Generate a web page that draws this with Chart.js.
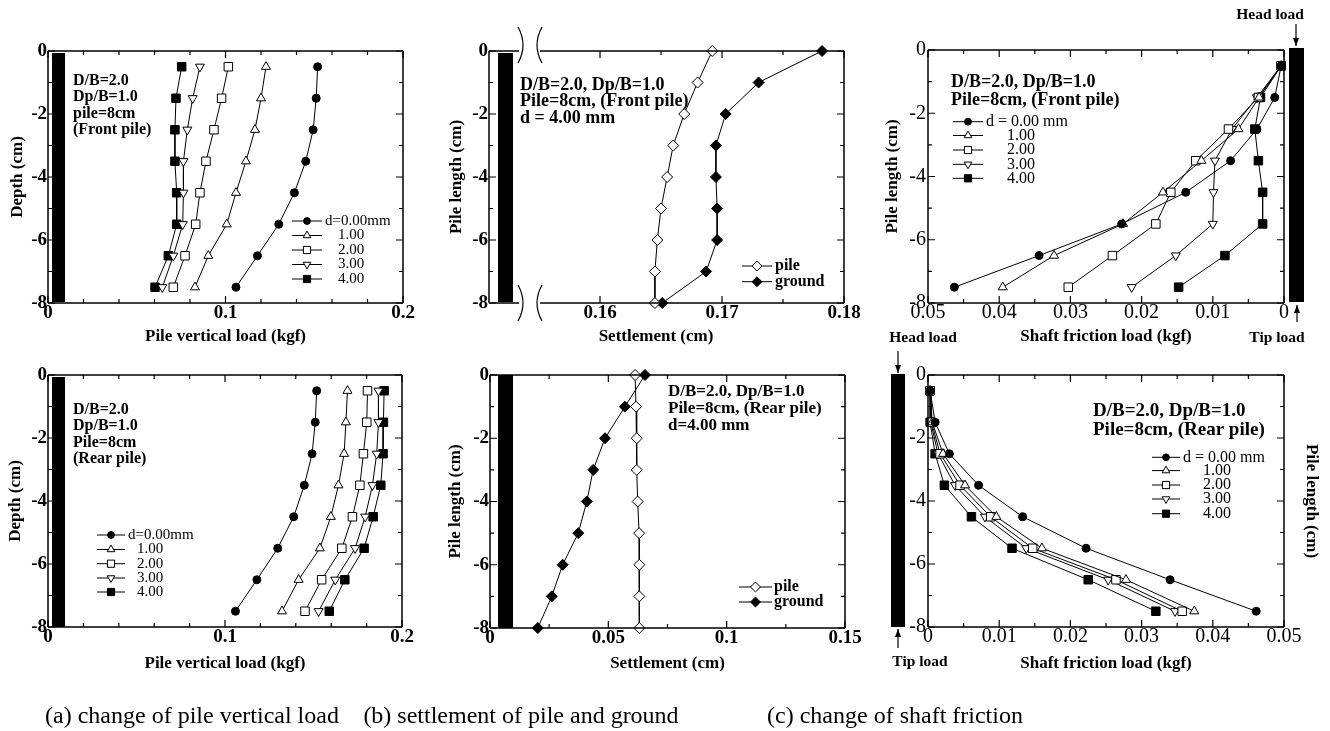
<!DOCTYPE html>
<html><head><meta charset="utf-8">
<script src="https://cdn.jsdelivr.net/npm/chart.js@4.4.1/dist/chart.umd.min.js"></script>
<style>
html,body{margin:0;padding:0;background:#fff;}
#wrap{position:relative;width:1330px;height:731px;overflow:hidden;background:#fff;}
canvas{position:absolute;left:0;top:0;}
.cap{position:absolute;font-family:'Liberation Serif','Times New Roman',serif;font-size:24px;line-height:28px;color:#000;white-space:nowrap;transform:translateX(-50%);}
</style></head><body>
<div id="wrap">
<canvas id="a1" width="1330" height="731"></canvas>
<canvas id="a2" width="1330" height="731"></canvas>
<canvas id="b1" width="1330" height="731"></canvas>
<canvas id="b2" width="1330" height="731"></canvas>
<canvas id="c1" width="1330" height="731"></canvas>
<canvas id="c2" width="1330" height="731"></canvas>
<div class="cap" style="left:192px;top:701px">(a) change of pile vertical load</div>
<div class="cap" style="left:521px;top:701px">(b) settlement of pile and ground</div>
<div class="cap" style="left:895px;top:701px">(c) change of shaft friction</div>
</div>
<script>
// ---------------- DATA ----------------
const depthHalf = [-0.5,-1.5,-2.5,-3.5,-4.5,-5.5,-6.5,-7.5];
const depthFull = [0,-1,-2,-3,-4,-5,-6,-7,-8];
const seriesNamesA = ['d=0.00mm','1.00','2.00','3.00','4.00'];
const seriesNamesC = ['d = 0.00 mm','1.00','2.00','3.00','4.00'];
const seriesNamesB = ['pile','ground'];

// (a) pile vertical load (kgf), front pile
const loadFront_d0 = [0.1519,0.1511,0.1494,0.1452,0.1388,0.1300,0.1180,0.1059];
const loadFront_d1 = [0.1228,0.1200,0.1166,0.1115,0.1059,0.1007,0.0903,0.0828];
const loadFront_d2 = [0.1016,0.0978,0.0935,0.0890,0.0856,0.0832,0.0772,0.0706];
const loadFront_d3 = [0.0856,0.0815,0.0785,0.0763,0.0763,0.0759,0.0706,0.0644];
const loadFront_d4 = [0.0753,0.0721,0.0715,0.0715,0.0725,0.0725,0.0678,0.0603];
// (a) rear pile
const loadRear_d0 = [0.1518,0.1510,0.1492,0.1448,0.1388,0.1298,0.1180,0.1059];
const loadRear_d1 = [0.1692,0.1683,0.1673,0.1641,0.1598,0.1536,0.1416,0.1322];
const loadRear_d2 = [0.1805,0.1801,0.1782,0.1762,0.1720,0.1660,0.1546,0.1452];
const loadRear_d3 = [0.1867,0.1867,0.1857,0.1833,0.1792,0.1735,0.1623,0.1529];
const loadRear_d4 = [0.1899,0.1895,0.1893,0.1880,0.1837,0.1786,0.1677,0.1589];

// (b) settlement (cm)
const settleFront_pile   = [0.1692,0.1680,0.1669,0.1660,0.1655,0.1650,0.1647,0.1645,0.1645];
const settleFront_ground = [0.1782,0.1730,0.1703,0.1695,0.1695,0.1696,0.1696,0.1687,0.1651];
const settleRear_pile    = [0.0613,0.0617,0.0620,0.0620,0.0624,0.0630,0.0631,0.0631,0.0631];
const settleRear_ground  = [0.0655,0.0570,0.0486,0.0436,0.0409,0.0373,0.0307,0.0261,0.0202];

// (c) shaft friction load (kgf)
const fricFront_d0 = [0.0004,0.0013,0.0038,0.0075,0.0138,0.0228,0.0344,0.0463];
const fricFront_d1 = [0.0004,0.0035,0.0064,0.0116,0.0170,0.0226,0.0323,0.0395];
const fricFront_d2 = [0.0004,0.0036,0.0078,0.0124,0.0159,0.0180,0.0241,0.0303];
const fricFront_d3 = [0.0004,0.0038,0.0073,0.0097,0.0099,0.0100,0.0152,0.0214];
const fricFront_d4 = [0.0004,0.0033,0.0041,0.0036,0.0030,0.0030,0.0083,0.0148];
const fricRear_d0 = [0.0003,0.0010,0.0030,0.0071,0.0133,0.0222,0.0340,0.0461];
const fricRear_d1 = [0.0003,0.0006,0.0021,0.0052,0.0096,0.0160,0.0278,0.0374];
const fricRear_d2 = [0.0003,0.0005,0.0017,0.0045,0.0088,0.0147,0.0264,0.0357];
const fricRear_d3 = [0.0003,0.0004,0.0014,0.0038,0.0080,0.0138,0.0253,0.0347];
const fricRear_d4 = [0.0003,0.0003,0.0010,0.0023,0.0061,0.0118,0.0225,0.0320];

// ticks
const depthTicks = [0,-1,-2,-3,-4,-5,-6,-7,-8];
const depthLabelVals = [0,-2,-4,-6,-8];
const depthLabels = ['0','-2','-4','-6','-8'];
const loadTicks = [0,0.02,0.04,0.06,0.08,0.1,0.12,0.14,0.16,0.18,0.2];
const loadLabelVals = [0,0.1,0.2];
const loadLabels = ['0','0.1','0.2'];
const settleFrontTicks = [0.16,0.165,0.17,0.175,0.18];
const settleFrontLabelVals = [0.16,0.17,0.18];
const settleFrontLabels = ['0.16','0.17','0.18'];
const settleRearTicks = [0,0.025,0.05,0.075,0.1,0.125,0.15];
const settleRearLabelVals = [0,0.05,0.1,0.15];
const settleRearLabels = ['0','0.05','0.1','0.15'];
const fricTicks = [0,0.005,0.01,0.015,0.02,0.025,0.03,0.035,0.04,0.045,0.05];
const fricLabelVals = [0,0.01,0.02,0.03,0.04,0.05];
const fricLabels = ['0','0.01','0.02','0.03','0.04','0.05'];

// ---------------- STYLE / HELPERS ----------------
const FONT = "'Liberation Serif','Times New Roman',Times,serif";
const W = 1330, H = 731;
const markers = [
  {pointStyle:'circle',   radius:4,   fill:'#000', rot:0},
  {pointStyle:'triangle', radius:5.2, fill:'#fff', rot:0},
  {pointStyle:'rect',     radius:6,   fill:'#fff', rot:0},
  {pointStyle:'triangle', radius:5.2, fill:'#fff', rot:180},
  {pointStyle:'rect',     radius:6,   fill:'#000', rot:0}
];
const diamondOpen = {pointStyle:'rectRot', radius:5.5, fill:'#fff', rot:0};
const diamondFill = {pointStyle:'rectRot', radius:5.5, fill:'#000', rot:0};

function lbl(v, vals, labels){
  for (let i=0;i<vals.length;i++) if (Math.abs(v-vals[i])<1e-9) return labels[i];
  return '';
}
function series(label, xs, ys, st){
  return {
    label, data: ys.map((y,i)=>({x:xs[i], y})),
    borderColor:'#000', borderWidth:1, backgroundColor:st.fill,
    pointBackgroundColor:st.fill, pointBorderColor:'#000', pointBorderWidth:1,
    pointStyle:st.pointStyle, pointRadius:st.radius, pointRotation:st.rot,
    pointHoverRadius:st.radius, tension:0, fill:false, clip:false
  };
}
function drawMarker(ctx, st, x, y, r){
  ctx.save(); ctx.beginPath();
  const rad = (st.rot||0)*Math.PI/180;
  if (st.pointStyle==='circle') ctx.arc(x,y,r,0,Math.PI*2);
  else if (st.pointStyle==='triangle'){
    let a = rad;
    for (let k=0;k<3;k++){ const px=x+Math.sin(a)*r, py=y-Math.cos(a)*r; if(k) ctx.lineTo(px,py); else ctx.moveTo(px,py); a+=2*Math.PI/3; }
    ctx.closePath();
  } else if (st.pointStyle==='rect'){ const s=Math.SQRT1_2*r; ctx.rect(x-s,y-s,2*s,2*s); }
  else if (st.pointStyle==='rectRot'){ ctx.moveTo(x-r,y); ctx.lineTo(x,y-r); ctx.lineTo(x+r,y); ctx.lineTo(x,y+r); ctx.closePath(); }
  ctx.fillStyle=st.fill; ctx.fill(); ctx.lineWidth=1; ctx.strokeStyle='#000'; ctx.stroke();
  ctx.restore();
}

const decor = {
  id:'decor',
  afterDraw(chart, args, o){
    const ctx = chart.ctx, ca = chart.chartArea;
    const l=ca.left, r=ca.right, t=ca.top, b=ca.bottom;
    ctx.save();
    // pile schematic bar
    if (o.bar){
      const B=o.bar, ref = B.ref==='right' ? r : l;
      ctx.fillStyle='#000';
      ctx.fillRect(ref+B.dx1, t+B.dy1, B.dx2-B.dx1, (b+B.dy2)-(t+B.dy1));
    }
    // frame
    ctx.strokeStyle='#000'; ctx.lineWidth=1.5; ctx.beginPath();
    ctx.moveTo(l,t); ctx.lineTo(l,b); ctx.moveTo(r,t); ctx.lineTo(r,b);
    if (o.gap){
      const g1=l+o.gap.dx1, g2=l+o.gap.dx2;
      [t,b].forEach(yy=>{ ctx.moveTo(l,yy); ctx.lineTo(g1,yy); ctx.moveTo(g2,yy); ctx.lineTo(r,yy); });
    } else {
      ctx.moveTo(l,t); ctx.lineTo(r,t); ctx.moveTo(l,b); ctx.lineTo(r,b);
    }
    ctx.stroke();
    // inward ticks on four sides
    ctx.lineWidth=1.2; ctx.beginPath();
    const xs=chart.scales.x, ys=chart.scales.y;
    xs.ticks.forEach(tk=>{ const p=xs.getPixelForValue(tk.value); const L=tk.label?7:4;
      ctx.moveTo(p,b); ctx.lineTo(p,b-L); ctx.moveTo(p,t); ctx.lineTo(p,t+L); });
    ys.ticks.forEach(tk=>{ const p=ys.getPixelForValue(tk.value); const L=tk.label?7:4;
      ctx.moveTo(l,p); ctx.lineTo(l+L,p); ctx.moveTo(r,p); ctx.lineTo(r-L,p); });
    ctx.stroke();
    // axis break marks
    if (o.gap){
      const g1=l+o.gap.dx1, g2=l+o.gap.dx2;
      ctx.lineWidth=1.2; ctx.beginPath();
      [[t,-24,12],[b,-18,18]].forEach(([yy,a,c])=>{
        ctx.moveTo(g1-1,yy+a); ctx.quadraticCurveTo(g1+9,yy+(a+c)/2,g1-1,yy+c);
        ctx.moveTo(g2+2,yy+a); ctx.quadraticCurveTo(g2-8,yy+(a+c)/2,g2+2,yy+c);
      });
      ctx.stroke();
    }
    // arrows
    (o.arrows||[]).forEach(A=>{
      ctx.lineWidth=1.2; ctx.beginPath(); ctx.moveTo(A.x,A.y1); ctx.lineTo(A.x,A.y2); ctx.stroke();
      const dir = A.y2>A.y1 ? 1 : -1;
      ctx.beginPath(); ctx.moveTo(A.x,A.y2); ctx.lineTo(A.x-3,A.y2-dir*8); ctx.lineTo(A.x+3,A.y2-dir*8); ctx.closePath();
      ctx.fillStyle='#000'; ctx.fill();
    });
    // notes
    ctx.fillStyle='#000'; ctx.textBaseline='middle';
    (o.notes||[]).forEach(N=>{
      ctx.font=N.font; ctx.textAlign=N.align||'left';
      N.lines.forEach((s,i)=>ctx.fillText(s, N.x, N.y + i*N.dy));
    });
    // legend
    if (o.legend){
      const L=o.legend;
      chart.data.datasets.forEach((ds,i)=>{
        const y=L.rows[i];
        ctx.strokeStyle='#000'; ctx.lineWidth=1; ctx.beginPath(); ctx.moveTo(L.lx1,y); ctx.lineTo(L.lx2,y); ctx.stroke();
        drawMarker(ctx,{pointStyle:ds.pointStyle,fill:ds.pointBackgroundColor,rot:ds.pointRotation},(L.lx1+L.lx2)/2,y,ds.pointRadius*L.mscale);
        ctx.fillStyle='#000'; ctx.font=L.font; ctx.textAlign='left'; ctx.textBaseline='middle';
        ctx.fillText(ds.label, L.tx[i], y);
      });
    }
    ctx.restore();
  }
};

function panel(id, P){
  const scales = {
    x: {
      type:'linear', min:P.xmin, max:P.xmax, reverse:!!P.xrev, position:'bottom',
      grid:{display:false, drawTicks:false}, border:{display:false},
      afterBuildTicks: s=>{ s.ticks = P.xTicks.map(v=>({value:v})); },
      afterFit: s=>{ s.height = P.xH; },
      ticks:{autoSkip:false, maxRotation:0, minRotation:0, padding:P.xPad, color:'#000', font:P.tickFont,
        callback: v=>lbl(v,P.xLabVals,P.xLabs)},
      title:{display:!!P.xTitle, text:P.xTitle||'', color:'#000', font:P.titleFont, padding:{top:0,bottom:P.xTitlePad||0}}
    },
    y: {
      type:'linear', min:-8, max:0, position:'left',
      grid:{display:false, drawTicks:false}, border:{display:false},
      afterBuildTicks: s=>{ s.ticks = depthTicks.map(v=>({value:v})); },
      afterFit: s=>{ s.width = P.yW; },
      ticks:{autoSkip:false, padding:P.yPad, color:'#000', font:P.tickFont,
        callback: v=>lbl(v,depthLabelVals,depthLabels)},
      title:{display:!!P.yTitle, text:P.yTitle||'', color:'#000', font:P.titleFont, padding:{top:P.yTitlePad||0,bottom:0}}
    }
  };
  if (P.rTitle){
    scales.y2 = {
      type:'linear', position:'right', min:-8, max:0,
      grid:{display:false, drawTicks:false}, border:{display:false}, ticks:{display:false},
      afterFit: s=>{ s.width = P.rW; },
      title:{display:true, text:P.rTitle, color:'#000', font:P.titleFont, padding:{top:P.rTitlePad,bottom:0}}
    };
  }
  const box=P.box;
  return new Chart(document.getElementById(id), {
    type:'line',
    data:{datasets:P.datasets},
    options:{
      responsive:false, animation:false, devicePixelRatio:1, events:[],
      layout:{padding:{left:box.l-P.yW, top:box.t, right:W-box.r-(P.rW||0), bottom:H-box.b-P.xH}},
      scales,
      plugins:{legend:{display:false}, tooltip:{enabled:false}, title:{display:false}, decor:P.decor}
    },
    plugins:[decor]
  });
}

const tickFontAB = {family:FONT, size:19, weight:'bold', lineHeight:1};
const tickFontC  = {family:FONT, size:20, weight:'normal', lineHeight:1};
const titleFont  = {family:FONT, size:17, weight:'bold', lineHeight:1.2};
const noteA = `bold 16px ${FONT}`;
const legA = `15px ${FONT}`;
const legB = `bold 16px ${FONT}`;
const legC = `16px ${FONT}`;

// (a) front
panel('a1', {
  box:{l:48,t:51,r:403,b:303}, xmin:0, xmax:0.2, xTicks:loadTicks, xLabVals:loadLabelVals, xLabs:loadLabels,
  xTitle:'Pile vertical load (kgf)', yTitle:'Depth (cm)', yW:48, yTitlePad:7.8, xH:50, xTitlePad:5.8, xPad:0.5, yPad:1,
  tickFont:tickFontAB, titleFont,
  datasets:[loadFront_d0,loadFront_d1,loadFront_d2,loadFront_d3,loadFront_d4].map((v,i)=>series(seriesNamesA[i],v,depthHalf,markers[i])),
  decor:{
    bar:{dx1:4,dx2:17,dy1:2,dy2:-1},
    notes:[{x:73,y:81,dy:16.2,font:noteA,lines:['D/B=2.0','Dp/B=1.0','pile=8cm','(Front pile)']}],
    legend:{rows:[221,235.5,250,264.5,279],lx1:292,lx2:322,tx:[325,338,338,338,338],font:legA,mscale:0.85}
  }
});
// (a) rear
panel('a2', {
  box:{l:48,t:375,r:402,b:627}, xmin:0, xmax:0.2, xTicks:loadTicks, xLabVals:loadLabelVals, xLabs:loadLabels,
  xTitle:'Pile vertical load (kgf)', yTitle:'Depth (cm)', yW:48, yTitlePad:5.8, xH:50, xTitlePad:2.8, xPad:0.5, yPad:1,
  tickFont:tickFontAB, titleFont,
  datasets:[loadRear_d0,loadRear_d1,loadRear_d2,loadRear_d3,loadRear_d4].map((v,i)=>series(seriesNamesA[i],v,depthHalf,markers[i])),
  decor:{
    bar:{dx1:4,dx2:17,dy1:2,dy2:0},
    notes:[{x:73,y:410,dy:16.3,font:noteA,lines:['D/B=2.0','Dp/B=1.0','Pile=8cm','(Rear pile)']}],
    legend:{rows:[535,549.5,563.7,578,592],lx1:97,lx2:125,tx:[128,137,137,137,137],font:legA,mscale:0.85}
  }
});
// (b) front  (x title drawn as a note, centred under the unbroken part of the axis)
panel('b1', {
  box:{l:489,t:51,r:844,b:303}, xmin:0.15090, xmax:0.18, xTicks:settleFrontTicks, xLabVals:settleFrontLabelVals, xLabs:settleFrontLabels,
  xTitle:'', yTitle:'Pile length (cm)', yW:60, yTitlePad:17.8, xH:50, xPad:0.5, yPad:1,
  tickFont:tickFontAB, titleFont,
  datasets:[series(seriesNamesB[0],settleFront_pile,depthFull,diamondOpen), series(seriesNamesB[1],settleFront_ground,depthFull,diamondFill)],
  decor:{
    bar:{dx1:9,dx2:24,dy1:2,dy2:-1}, gap:{dx1:30,dx2:51},
    notes:[{x:520,y:85,dy:16.6,font:`bold 18px ${FONT}`,lines:['D/B=2.0, Dp/B=1.0','Pile=8cm, (Front pile)','d = 4.00 mm']},
           {x:656,y:337,dy:0,align:'center',font:`bold 17px ${FONT}`,lines:['Settlement (cm)']}],
    legend:{rows:[266,281.7],lx1:742,lx2:772,tx:[775,775],font:legB,mscale:0.9}
  }
});
// (b) rear
panel('b2', {
  box:{l:490,t:375,r:845,b:628}, xmin:0, xmax:0.15, xTicks:settleRearTicks, xLabVals:settleRearLabelVals, xLabs:settleRearLabels,
  xTitle:'Settlement (cm)', yTitle:'Pile length (cm)', yW:60, yTitlePad:15.8, xH:50, xTitlePad:3.8, xPad:0.5, yPad:1,
  tickFont:tickFontAB, titleFont,
  datasets:[series(seriesNamesB[0],settleRear_pile,depthFull,diamondOpen), series(seriesNamesB[1],settleRear_ground,depthFull,diamondFill)],
  decor:{
    bar:{dx1:8,dx2:23,dy1:0,dy2:0},
    notes:[{x:668,y:392,dy:16.6,font:`bold 17px ${FONT}`,lines:['D/B=2.0, Dp/B=1.0','Pile=8cm, (Rear pile)','d=4.00 mm']}],
    legend:{rows:[587,602],lx1:739,lx2:772,tx:[774,774],font:legB,mscale:0.9}
  }
});
// (c) front
panel('c1', {
  box:{l:928,t:50,r:1284,b:303}, xmin:0, xmax:0.05, xrev:true, xTicks:fricTicks, xLabVals:fricLabelVals, xLabs:fricLabels,
  xTitle:'Shaft friction load (kgf)', yTitle:'Pile length (cm)', yW:60, yTitlePad:14.8, xH:50, xTitlePad:5.8, xPad:0, yPad:2,
  tickFont:tickFontC, titleFont,
  datasets:[fricFront_d0,fricFront_d1,fricFront_d2,fricFront_d3,fricFront_d4].map((v,i)=>series(seriesNamesC[i],v,depthHalf,markers[i])),
  decor:{
    bar:{ref:'right',dx1:5,dx2:20,dy1:-2,dy2:-1},
    arrows:[{x:1296,y1:24,y2:46},{x:1297,y1:322,y2:305}],
    notes:[{x:951,y:82,dy:18,font:`bold 18px ${FONT}`,lines:['D/B=2.0, Dp/B=1.0','Pile=8cm, (Front pile)']},
           {x:1270,y:15,dy:0,align:'center',font:`bold 15.5px ${FONT}`,lines:['Head load']},
           {x:1277,y:338,dy:0,align:'center',font:`bold 15.5px ${FONT}`,lines:['Tip load']}],
    legend:{rows:[121.7,135.5,150,164.3,178.3],lx1:953,lx2:983,tx:[986,1007,1007,1007,1007],font:legC,mscale:0.85}
  }
});
// (c) rear
panel('c2', {
  box:{l:928,t:375,r:1284,b:627}, xmin:0, xmax:0.05, xTicks:fricTicks, xLabVals:fricLabelVals, xLabs:fricLabels,
  xTitle:'Shaft friction load (kgf)', yTitle:'', yW:40, xH:50, xTitlePad:2.8, xPad:0, yPad:2,
  rTitle:'Pile length (cm)', rW:40, rTitlePad:2.8,
  tickFont:tickFontC, titleFont,
  datasets:[fricRear_d0,fricRear_d1,fricRear_d2,fricRear_d3,fricRear_d4].map((v,i)=>series(seriesNamesC[i],v,depthHalf,markers[i])),
  decor:{
    bar:{ref:'left',dx1:-37,dx2:-23,dy1:-1,dy2:0},
    arrows:[{x:898,y1:351,y2:373},{x:898,y1:648,y2:629}],
    notes:[{x:1093,y:411,dy:19,font:`bold 19px ${FONT}`,lines:['D/B=2.0, Dp/B=1.0','Pile=8cm, (Rear pile)']},
           {x:923,y:338,dy:0,align:'center',font:`bold 15.5px ${FONT}`,lines:['Head load']},
           {x:920,y:662,dy:0,align:'center',font:`bold 15.5px ${FONT}`,lines:['Tip load']}],
    legend:{rows:[457.3,470.6,485,499,513.7],lx1:1152,lx2:1180,tx:[1183,1203,1203,1203,1203],font:legC,mscale:0.85}
  }
});
</script>
</body></html>
